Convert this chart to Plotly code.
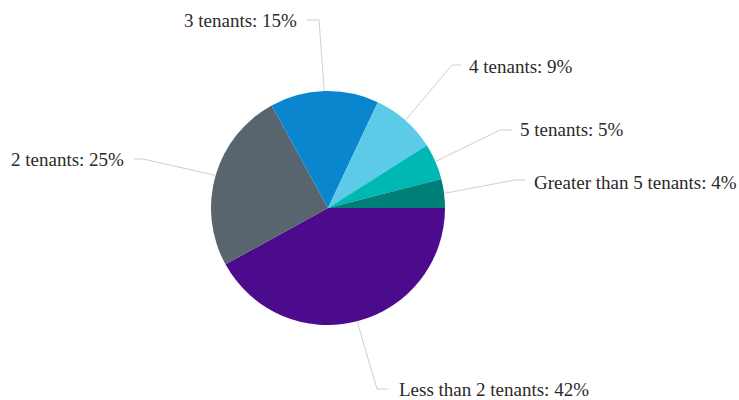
import math
import plotly.graph_objects as go

labels = ["Less than 2 tenants", "2 tenants", "3 tenants", "4 tenants", "5 tenants", "Greater than 5 tenants"]
values = [42, 25, 15, 9, 5, 4]
colors = ["#4b0b8c", "#58646e", "#0a86cf", "#5ccbe8", "#00b8b3", "#007f78"]

W, H = 739, 400
CX, CY, R = 328, 208, 117  # pie centre / radius in pixels (layout)

# label layout: (text x, text y, xanchor, elbow point, line end near text)
label_layout = [
    (397, 389, "left", (377, 389), (388, 389)),
    (126, 159, "right", (143, 159), (134, 159)),
    (299, 20, "right", (319, 20), (307, 20)),
    (467, 66, "left", (452, 65), (461, 65)),
    (518, 130, "left", (500, 130), (512, 130)),
    (532, 182, "left", (515, 180), (525, 180)),
]

def px(x):
    return x / W

def py(y):
    return 1 - y / H

fig = go.Figure(go.Pie(
    labels=labels,
    values=values,
    sort=False,
    direction="clockwise",
    rotation=90,
    marker=dict(colors=colors, line=dict(width=0)),
    textinfo="none",
    hoverinfo="label+percent",
    domain=dict(x=[px(CX - R), px(CX + R)], y=[py(CY + R), py(CY - R)]),
    showlegend=False,
))

total = sum(values)
cum = 0
shapes = []
annotations = []
for lab, v, lay in zip(labels, values, label_layout):
    mid = (cum + v / 2) / total * 2 * math.pi  # clockwise from 3 o'clock
    cum += v
    ex = CX + R * math.cos(mid)
    ey = CY + R * math.sin(mid)
    tx, ty, anchor, (bx, by), (lx, ly) = lay
    path = f"M {px(ex)} {py(ey)} L {px(bx)} {py(by)} L {px(lx)} {py(ly)}"
    shapes.append(dict(type="path", path=path, xref="paper", yref="paper",
                       line=dict(color="#cfcfcf", width=1)))
    annotations.append(dict(
        x=px(tx), y=py(ty), xref="paper", yref="paper",
        text=f"{lab}: {round(v / total * 100)}%",
        showarrow=False, xanchor=anchor, yanchor="middle",
        font=dict(family="Liberation Serif", size=19, color="#2a2a2a"),
    ))

fig.update_layout(
    width=W, height=H,
    margin=dict(l=0, r=0, t=0, b=0),
    paper_bgcolor="white",
    plot_bgcolor="white",
    shapes=shapes,
    annotations=annotations,
)

fig.write_html("out.html", config={"displayModeBar": False},
               post_script="document.body.style.margin='0';")
